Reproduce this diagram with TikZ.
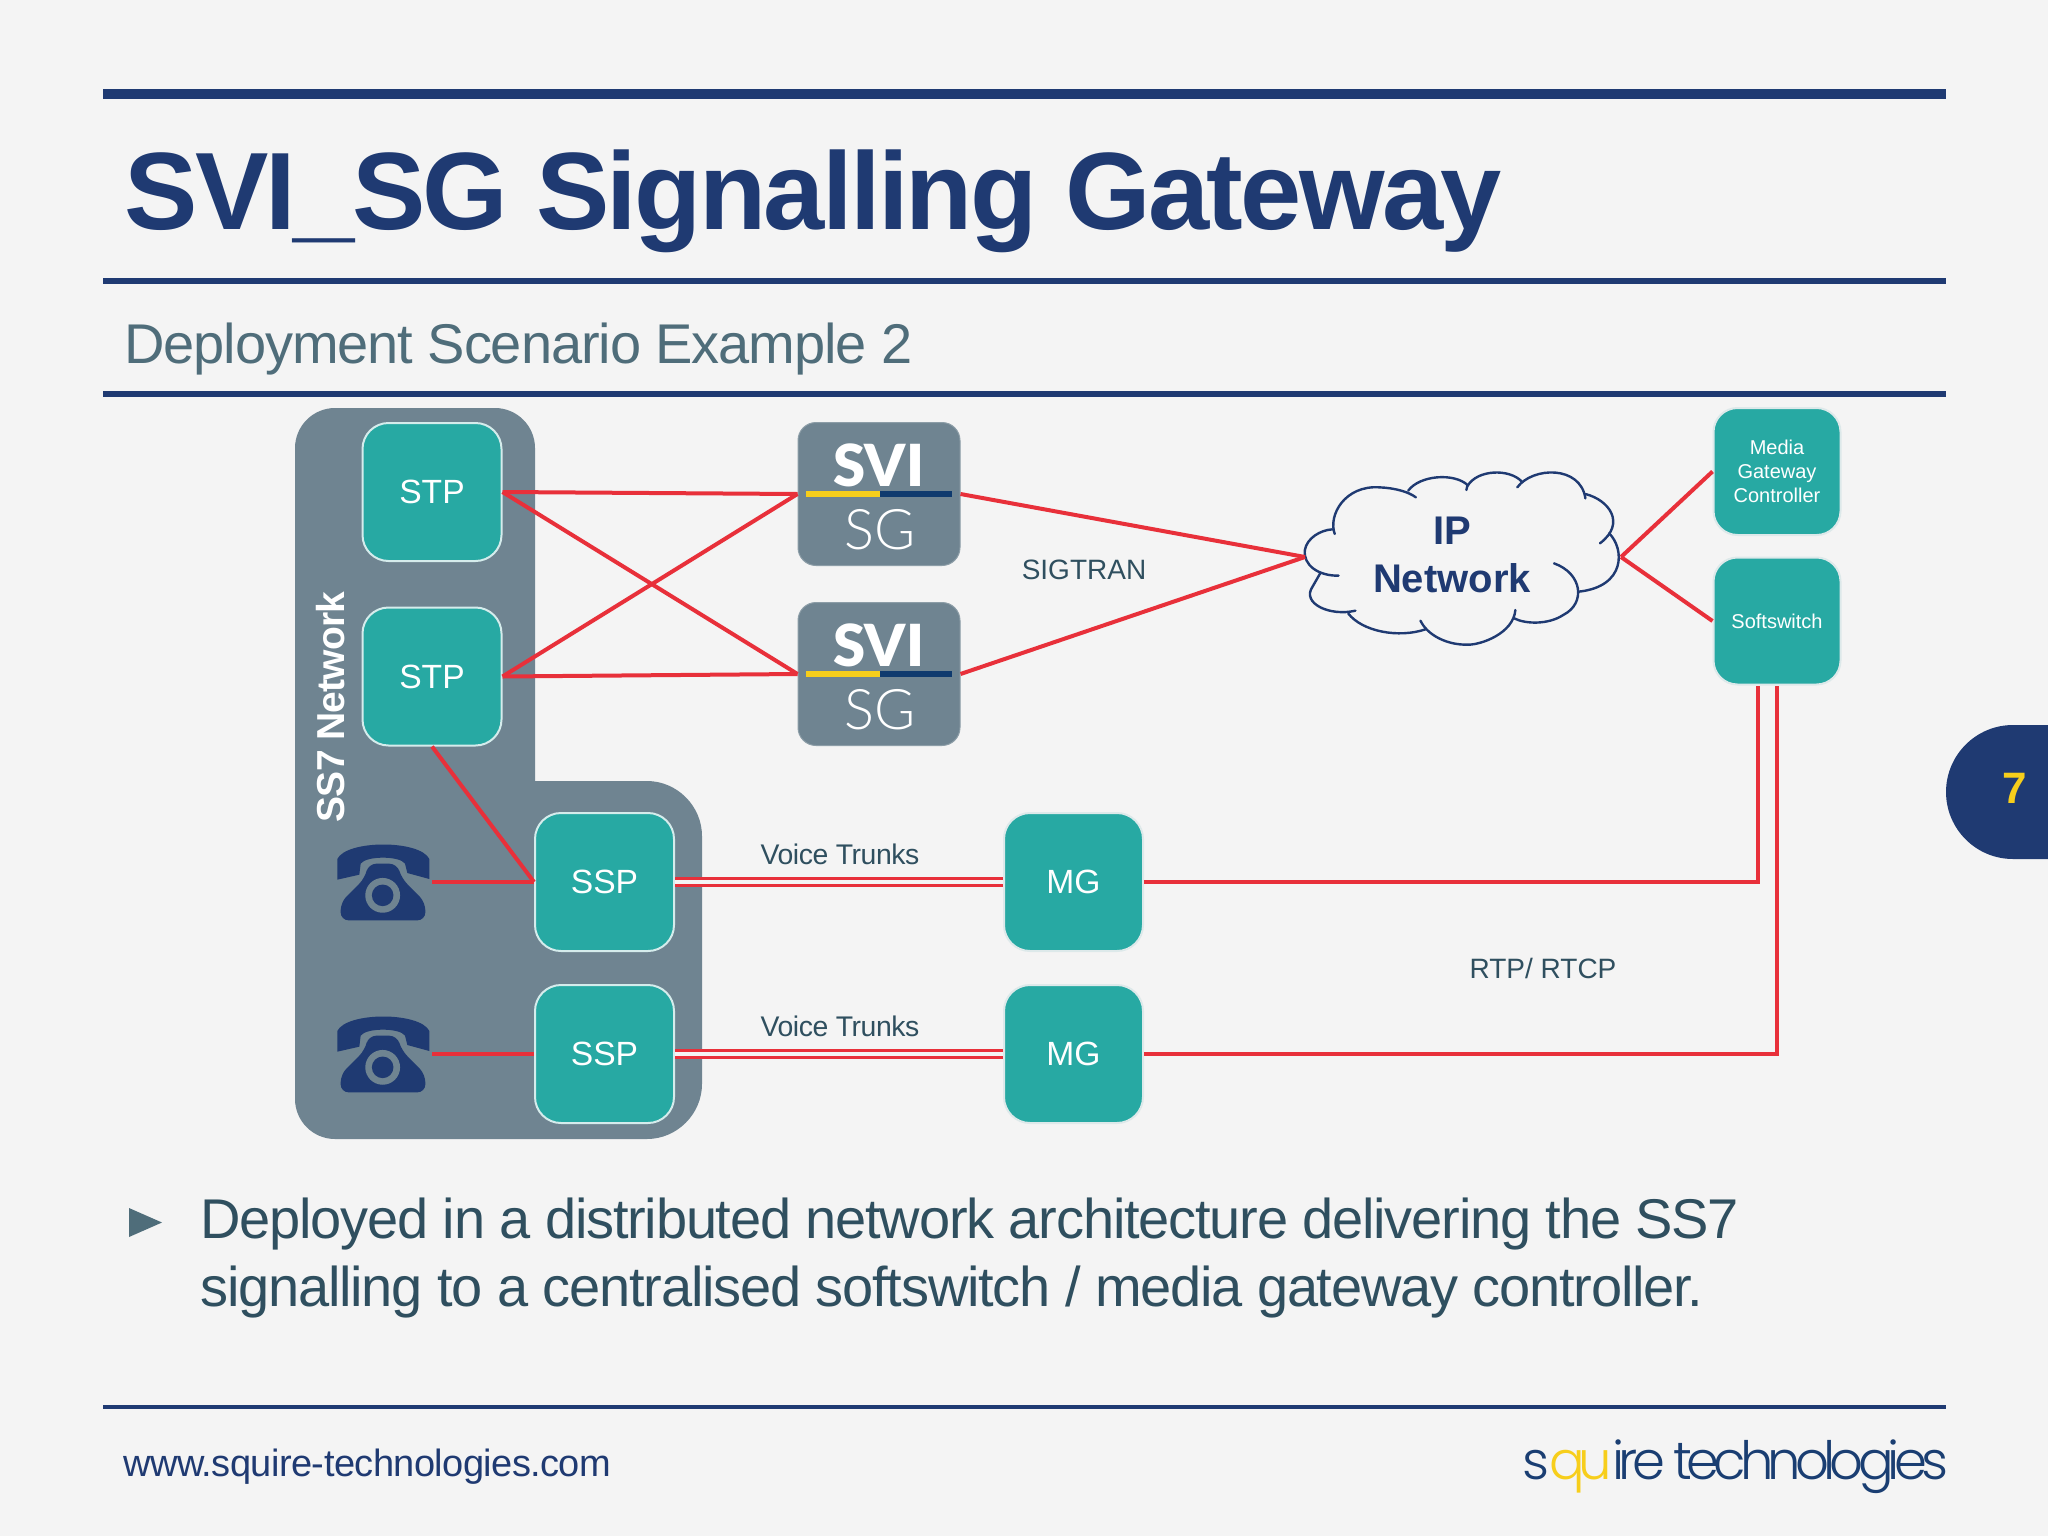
\documentclass[tikz,border=0pt]{standalone}
\usepackage{fontspec}
\setmainfont{Liberation Sans}
\newfontfamily\tightf{Liberation Sans}[LetterSpace=-1.5]
\newfontfamily\tighterf{Liberation Sans}[LetterSpace=-2.15]
\newfontfamily\subf{Liberation Sans}[LetterSpace=-1.95]
\newfontfamily\titlef{Liberation Sans}[LetterSpace=-2.45]
\newfontfamily\ssf{Liberation Sans}[LetterSpace=-2.3]
\newfontfamily\logof{Poppins}[UprightFont=* Light,LetterSpace=-11]
\newfontfamily\sgf{Lato}[UprightFont=* Light]
\newfontfamily\svif{Lato}[UprightFont=* Black]
\definecolor{bg}{HTML}{F4F4F4}
\definecolor{navy}{HTML}{1F3A72}
\definecolor{teal}{HTML}{27A9A3}
\definecolor{slate}{HTML}{6F8491}
\definecolor{redl}{HTML}{E8303A}
\definecolor{txt}{HTML}{2F4F5F}
\definecolor{subt}{HTML}{4F6D7A}
\definecolor{yel}{HTML}{F7CE1B}
\definecolor{lognavy}{HTML}{1A3E72}
\definecolor{barblue}{HTML}{0F3A6E}
\definecolor{edgea}{HTML}{D5ECEC}
\definecolor{edgeb}{HTML}{DDE9EA}
\newcommand{\fs}[2]{\fontsize{#1pt}{#2pt}\selectfont}
\newcommand{\bt}[1]{\raisebox{-0.6pt}{#1}}
\tikzset{
  x=0.5pt,y=-0.5pt,
  rule/.style={draw=navy},
  box/.style={shape=rectangle,rounded corners=13pt,fill=teal,draw=#1,line width=1pt,inner sep=0pt,
    minimum width=69.5pt,minimum height=69pt,text=white,align=center,font=\fs{16.8}{20}},
  box/.default={edgea},
  sgbox/.style={shape=rectangle,rounded corners=9pt,fill=slate,draw=slate!80!white,line width=.5pt,inner sep=0pt,
    minimum width=81pt,minimum height=71.5pt},
  ctrl/.style={box=edgeb,minimum width=63.5pt,minimum height=63.5pt,rounded corners=12pt,font=\fs{10}{12}},
  link/.style={draw=redl,line width=2pt},
  trunk/.style={draw=redl,line width=1.2pt,double=bg,double distance=2.2pt},
  lbl/.style={inner sep=0pt,anchor=base,text=txt},
  phone/.pic={
    \begin{scope}[x=0.1667pt,y=-0.1667pt,shift={(-219,-187)}]
      \fill[navy] (82,118) .. controls (110,60) and (330,60) .. (358,118) -- (358,178) -- (292,160)
        -- (285,132) .. controls (270,108) and (168,108) .. (152,132) -- (148,165) -- (82,180) -- cycle;
      \fill[navy,rounded corners=4pt] (175,132) -- (262,132) -- (274,175) -- (346,248) -- (346,302) -- (92,302) -- (92,248) -- (165,175) -- cycle;
      \fill[slate] (218,227) circle[radius=8.7pt];
      \fill[navy] (218,227) circle[radius=5.4pt];
    \end{scope}
  },
  cloudarc/.style={draw=navy,line width=1.2pt,line cap=round}
}
\begin{document}
\begin{tikzpicture}
\useasboundingbox (0,0) rectangle (2048,1536);
\fill[bg] (0,0) rectangle (2048,1536);

% rules
\draw[rule,line width=5pt] (103,94) -- (1946,94);
\draw[rule,line width=3pt] (103,281) -- (1946,281);
\draw[rule,line width=3pt] (103,394) -- (1946,394);
\draw[rule,line width=2.2pt] (103,1407) -- (1946,1407);

% titles
\node[inner sep=0pt,anchor=base west,text=navy,font=\fs{55}{60}\titlef\bfseries] (title) at (124,229) {SVI\_SG Signalling Gateway};
\node[inner sep=0pt,anchor=base west,text=subt,font=\fs{28}{32}\subf] (subtitle) at (124,363) {Deployment Scenario Example 2};

% page tab
\fill[navy] (2048,725) -- (2013,725) .. controls (1976,725) and (1946,755) .. (1946,792) .. controls (1946,829) and (1976,859) .. (2013,859) -- (2048,859) -- cycle;
\node[inner sep=0pt,anchor=base,text=yel,font=\fs{22}{26}\bfseries] (page) at (2015,803) {7};

% SS7 area
\fill[slate] (295,448) .. controls (295,426) and (313,408) .. (335,408) -- (495,408)
  .. controls (517,408) and (535,426) .. (535,448) -- (535,781) -- (647,781)
  .. controls (677,781) and (702,806) .. (702,836) -- (702,1084)
  .. controls (702,1114) and (677,1139) .. (647,1139) -- (335,1139)
  .. controls (313,1139) and (295,1121) .. (295,1099) -- cycle;
\node[inner sep=0pt,anchor=base,rotate=90,text=white,font=\fs{19.5}{22}\ssf\bfseries] (ss7) at (344,707) {SS7 Network};

% boxes
\node[box] (stp1) at (432,492) {\bt{STP}};
\node[box] (stp2) at (432,676.5) {\bt{STP}};
\node[box] (ssp1) at (604.5,882) {\bt{SSP}};
\node[box] (ssp2) at (604.5,1054) {\bt{SSP}};
\node[box=edgeb] (mg1) at (1073.5,882) {\bt{MG}};
\node[box=edgeb] (mg2) at (1073.5,1054) {\bt{MG}};
\node[ctrl] (mgc) at (1777,471.5) {Media\\Gateway\\Controller};
\node[ctrl] (soft) at (1777,621) {Softswitch};

% SVI SG logos
\node[sgbox] (sg1) at (879,494) {};
\node[sgbox] (sg2) at (879,674) {};
\foreach \n/\yy in {sg1/494,sg2/674}{
  \fill[yel] (806,\yy-3) rectangle (880,\yy+3);
  \fill[barblue] (880,\yy-3) rectangle (952,\yy+3);
  \node[inner sep=0pt,anchor=base,text=white,font=\fs{29}{30}\svif] (\n svi) at (879,\yy-8) {SVI};
  \node[inner sep=0pt,anchor=base,text=white,font=\fs{28}{30}\sgf] (\n tx) at (880,\yy+55) {SG};
}

% phones
\node[inner sep=0pt,minimum width=49pt,minimum height=38pt] (ph1) at (383,882) {};
\node[inner sep=0pt,minimum width=49pt,minimum height=38pt] (ph2) at (383,1054) {};
\pic at (383,882) {phone};
\pic at (383,1054) {phone};

% cloud
\begin{scope}[shift={(1280,400)},x=0.19135pt,y=-0.16667pt]
  \draw[cloudarc] (143,402) .. controls (125,345) and (170,255) .. (260,262) .. controls (300,264) and (335,275) .. (355,292);
  \draw[cloudarc] (335,272) .. controls (365,225) and (455,218) .. (490,255) -- (487,270);
  \draw[cloudarc] (490,258) .. controls (515,208) and (600,205) .. (632,245);
  \draw[cloudarc] (620,262) .. controls (660,200) and (785,195) .. (798,295);
  \draw[cloudarc] (798,282) .. controls (860,300) and (905,370) .. (836,430);
  \draw[cloudarc] (860,400) .. controls (900,445) and (905,560) .. (780,575);
  \draw[cloudarc] (716,490) .. controls (790,520) and (800,610) .. (740,645) .. controls (700,675) and (640,672) .. (612,655);
  \draw[cloudarc] (615,630) .. controls (610,700) and (525,735) .. (490,734) .. controls (435,735) and (385,705) .. (367,662);
  \draw[cloudarc] (380,688) .. controls (310,715) and (215,695) .. (178,640);
  \draw[cloudarc] (197,632) .. controls (130,650) and (55,610) .. (85,560) -- (105,520);
  \draw[cloudarc] (153,527) .. controls (100,528) and (60,495) .. (65,450) .. controls (70,415) and (105,390) .. (137,388);
\end{scope}
\node[inner sep=0pt,align=center,text=navy,font=\fs{20}{24}\bfseries] (cloud) at (1452,555) {IP\\Network};
\coordinate (cw) at (1305,557);
\coordinate (ce) at (1621,557);

% connectors
\draw[link] (stp1.east) -- (sg1.west);
\draw[link] (stp1.east) -- (sg2.west);
\draw[link] (stp2.east) -- (sg1.west);
\draw[link] (stp2.east) -- (sg2.west);
\draw[link] (sg1.east) -- (cw);
\draw[link] (sg2.east) -- (cw);
\draw[link] (ce) -- (mgc.west);
\draw[link] (ce) -- (soft.west);
\draw[link] (stp2.south) -- (ssp1.west);
\draw[link] (ph1.east) -- (ssp1.west);
\draw[link] (ph2.east) -- (ssp2.west);
\draw[trunk] (ssp1.east) -- (mg1.west);
\draw[trunk] (ssp2.east) -- (mg2.west);
\coordinate (softa) at ([xshift=-9.5pt]soft.south);
\draw[link] (mg1.east) -| (softa);
\draw[link] (mg2.east) -| (soft.south);

% labels
\node[lbl,font=\fs{14.2}{16}\tightf] (vt1) at (840,864.5) {Voice Trunks};
\node[lbl,font=\fs{14.2}{16}\tightf] (vt2) at (840,1036.5) {Voice Trunks};
\node[lbl,font=\fs{14}{16}] (sigtran) at (1084,579) {SIGTRAN};
\node[lbl,font=\fs{14}{16}] (rtp) at (1543,978) {RTP/ RTCP};

% bullet
\fill[subt] (129,1208) -- (162,1222.5) -- (129,1237) -- cycle;
\node[inner sep=0pt,anchor=north west,align=left,text=txt,font=\fs{28}{34}\tighterf] (body) at (200,1198)
  {Deployed in a distributed network architecture delivering the SS7\\signalling to a centralised softswitch / media gateway controller.};

% footer
\node[inner sep=0pt,anchor=base west,text=navy,font=\fs{19}{22}\tightf] (web) at (123,1476) {www.squire-technologies.com};
\node[inner sep=0pt,anchor=base east,font=\logof] (logo) at (1948.5,1479)
  {\resizebox{213pt}{!}{\fs{28}{32}{\color{lognavy}s}{\color{yel}qu}{\color{lognavy}ire technologies}}};
\end{tikzpicture}
\end{document}
